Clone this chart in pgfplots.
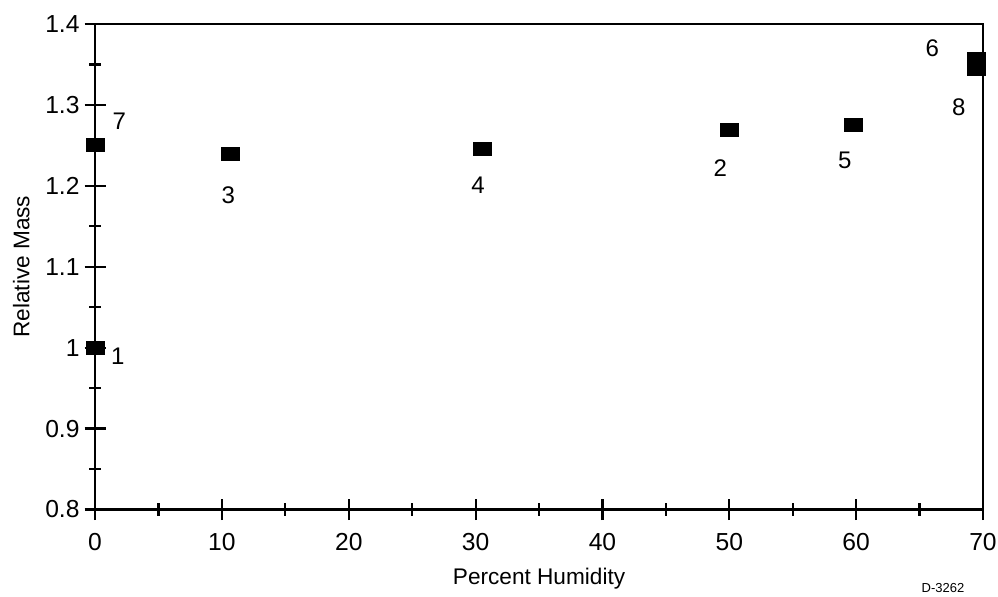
\documentclass[border=0pt]{standalone}
\usepackage{fontspec}
\setmainfont{Liberation Sans}
\usepackage{pgfplots}
\pgfplotsset{compat=1.18}

\begin{document}
\begin{tikzpicture}
\begin{axis}[
	scale only axis,
	width=443.5pt, height=242.5pt,
	xmin=0, xmax=70, ymin=0.8, ymax=1.4,
	xtick={0,10,...,70},
	ytick={0.8,0.9,1.0,1.1,1.2,1.3,1.4},
	yticklabels={0.8,0.9,1,1.1,1.2,1.3,1.4},
	minor x tick num=1, minor y tick num=1,
	tick pos=left, tick align=center,
	major tick length=10.5pt, minor tick length=6pt,
	every tick/.style={black, line width=1.1pt},
	axis line style={line width=1.1pt},
	/pgf/number format/assume math mode=true,
	tick label style={font=\fontsize{12.3}{14}\selectfont},
	xticklabel style={yshift=-3pt},
	yticklabel style={xshift=1pt},
	xlabel={Percent Humidity},
	ylabel={Relative Mass},
	label style={font=\fontsize{11.3}{13}\selectfont},
	xlabel style={yshift=-2pt},
	ylabel style={yshift=1pt},
	clip=false,
]
\addplot[only marks, mark=square*, mark size=3.25pt, mark options={xscale=1.38, fill=black, draw=black}]
	coordinates {(0,1.0) (0,1.251) (10.7,1.240) (30.5,1.246) (50.0,1.269) (59.8,1.275) (69.5,1.357) (69.5,1.344)};

\node[font=\fontsize{12}{14}\selectfont] at (axis cs:1.8,0.990) {1};
\node[font=\fontsize{12}{14}\selectfont] at (axis cs:1.9,1.280) {7};
\node[font=\fontsize{12}{14}\selectfont] at (axis cs:10.5,1.188) {3};
\node[font=\fontsize{12}{14}\selectfont] at (axis cs:30.2,1.201) {4};
\node[font=\fontsize{12}{14}\selectfont] at (axis cs:49.3,1.222) {2};
\node[font=\fontsize{12}{14}\selectfont] at (axis cs:59.1,1.232) {5};
\node[font=\fontsize{12}{14}\selectfont] at (axis cs:66.0,1.370) {6};
\node[font=\fontsize{12}{14}\selectfont] at (axis cs:68.1,1.297) {8};

\coordinate (sw) at (rel axis cs:0,0);
\coordinate (ne) at (rel axis cs:1,1);
\end{axis}
\node[font=\fontsize{6.5}{7}\selectfont, anchor=center] at ([xshift=-20pt,yshift=-39pt]ne|-sw) {D-3262};
\pgfresetboundingbox
\path[use as bounding box] ([xshift=-47.5pt,yshift=-43.5pt]sw) rectangle ([xshift=7.5pt,yshift=12pt]ne);
\end{tikzpicture}
\end{document}
